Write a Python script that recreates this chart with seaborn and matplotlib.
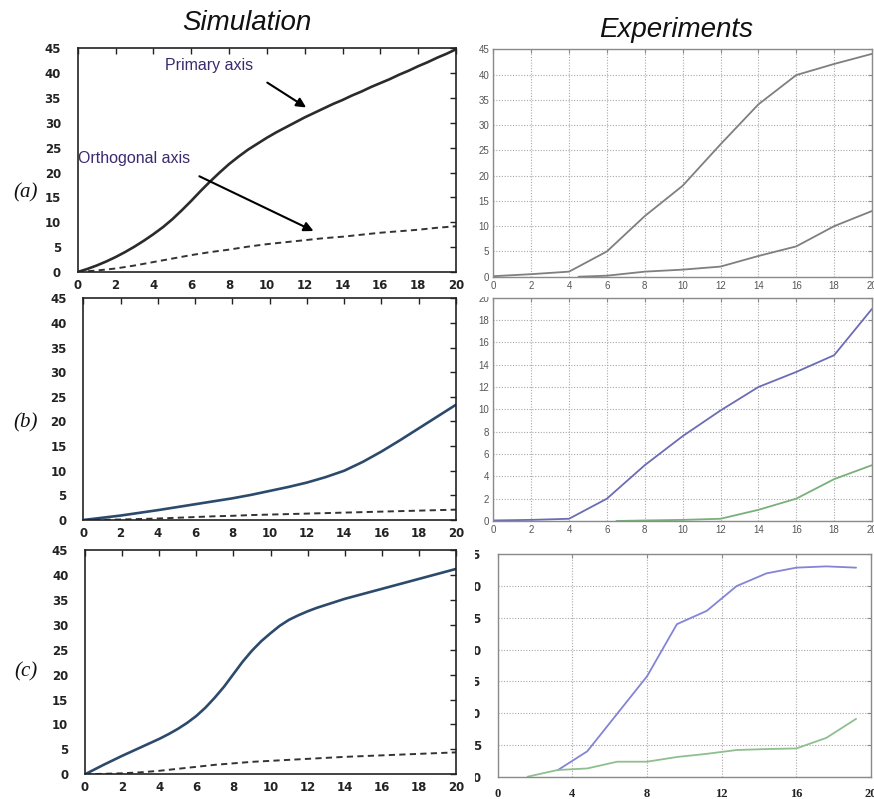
import matplotlib
matplotlib.use("Agg")
import matplotlib.pyplot as plt
from matplotlib.transforms import Bbox
import seaborn as sns

# ---------------- data ----------------
# Simulation, time axis (integer steps)
sim_x = list(range(0, 21))
# finer time axis for the primary growth curves of cases (a) and (c)
sim_x_fine = [i * 0.5 for i in range(41)]

sim_a_primary = [0, 0.6, 1.3, 2.1, 3.0, 4.0, 5.1, 6.3, 7.6, 9.0, 10.6,
                 12.4, 14.3, 16.3, 18.2, 20.0, 21.7, 23.2, 24.6, 25.8, 27.0,
                 28.1, 29.1, 30.1, 31.1, 32.0, 32.9, 33.8, 34.6, 35.5, 36.3,
                 37.2, 38.0, 38.8, 39.7, 40.5, 41.4, 42.2, 43.1, 43.9, 44.8]
sim_a_ortho = [0, 0.3, 0.7, 1.3, 2.0, 2.7, 3.4, 4.0, 4.5, 5.1, 5.6,
               6.0, 6.4, 6.8, 7.1, 7.5, 7.9, 8.2, 8.5, 8.9, 9.2]

sim_b_primary = [0, 0.45, 0.9, 1.45, 2.0, 2.6, 3.2, 3.8, 4.4, 5.1, 5.9,
                 6.7, 7.6, 8.7, 10.0, 11.8, 13.9, 16.2, 18.6, 21.0, 23.4]
sim_b_ortho = [0, 0.05, 0.1, 0.2, 0.3, 0.45, 0.6, 0.75, 0.85, 1.0, 1.1,
               1.2, 1.3, 1.4, 1.5, 1.6, 1.7, 1.8, 1.9, 2.0, 2.1]

sim_c_primary = [0, 0.95, 1.9, 2.8, 3.7, 4.55, 5.4, 6.25, 7.1, 8.05, 9.1,
                 10.3, 11.7, 13.4, 15.4, 17.6, 20.1, 22.6, 24.8, 26.7, 28.3,
                 29.8, 31.0, 31.9, 32.7, 33.4, 34.0, 34.6, 35.2, 35.7, 36.2,
                 36.7, 37.2, 37.7, 38.2, 38.7, 39.2, 39.7, 40.2, 40.7, 41.2]
sim_c_ortho = [0, 0.1, 0.2, 0.4, 0.7, 1.1, 1.5, 1.9, 2.2, 2.5, 2.7,
               2.9, 3.1, 3.3, 3.5, 3.65, 3.8, 3.95, 4.1, 4.25, 4.4]

# Experiments (a)
exp_a_x1 = [0, 2, 4, 6, 8, 10, 12, 14, 16, 18, 20]
exp_a_primary = [0.1, 0.5, 1.0, 5.0, 12.0, 18.0, 26.2, 34.1, 39.9, 42.1, 44.1]
exp_a_x2 = [4.5, 6, 8, 10, 12, 14, 16, 18, 20]
exp_a_ortho = [0, 0.2, 1.0, 1.4, 2.0, 4.1, 6.0, 10.0, 13.0]

# Experiments (b)
exp_b_x1 = [0, 2, 4, 6, 8, 10, 12, 14, 16, 18, 20]
exp_b_primary = [0.05, 0.1, 0.2, 2.0, 5.0, 7.6, 9.9, 12.0, 13.35, 14.85, 19.0]
exp_b_x2 = [6.5, 8, 10, 12, 14, 16, 18, 20]
exp_b_ortho = [0, 0.05, 0.1, 0.2, 1.0, 2.0, 3.75, 5.0]

# Experiments (c)
exp_c_x1 = [3.2, 4.8, 6.4, 8.0, 9.6, 11.2, 12.8, 14.4, 16.0, 17.6, 19.2]
exp_c_primary = [1.0, 4.0, 9.9, 15.8, 24.0, 26.1, 30.0, 32.0, 32.9, 33.1, 32.9]
exp_c_x2 = [1.6, 3.2, 4.8, 6.4, 8.0, 9.6, 11.2, 12.8, 14.4, 16.0, 17.6, 19.2]
exp_c_ortho = [0, 1.05, 1.3, 2.36, 2.36, 3.1, 3.6, 4.2, 4.35, 4.45, 6.1, 9.1]

row_labels = ["(a)", "(b)", "(c)"]
col_titles = ["Simulation", "Experiments"]

# ---------------- figure ----------------
sns.set_style("white")
plt.rcParams["font.family"] = ["Liberation Sans", "DejaVu Sans"]

W, H = 874, 799
fig = plt.figure(figsize=(W / 100, H / 100), dpi=100)


def add_axes_px(left, top, right, bottom):
    return fig.add_axes([left / W, 1 - bottom / H, (right - left) / W, (bottom - top) / H])


def pix_box(x0, y0, x1, y1):
    # image-pixel rectangle (origin top-left) -> display Bbox
    return Bbox([[x0, H - y1], [x1, H - y0]])


# ---- Simulation column ----
sim_boxes = [(77.7, 48.3, 456, 272), (83.3, 298.3, 456, 520), (85, 550, 456, 774.3)]
sim_primary = [(sim_x_fine, sim_a_primary), (sim_x, sim_b_primary), (sim_x_fine, sim_c_primary)]
sim_ortho = [sim_a_ortho, sim_b_ortho, sim_c_ortho]
sim_colors = ["#2b2b2b", "#2c4a6c", "#2c4a6c"]

sim_axes = []
for i, box in enumerate(sim_boxes):
    ax = add_axes_px(*box)
    sim_axes.append(ax)
    px, py = sim_primary[i]
    sns.lineplot(x=px, y=py, ax=ax, color=sim_colors[i], linewidth=1.9)
    sns.lineplot(x=sim_x, y=sim_ortho[i], ax=ax, color="#333333",
                 linewidth=1.4, linestyle=(0, (3.2, 2.2)))
    ax.set_xlim(0, 20)
    ax.set_ylim(0, 45)
    ax.set_xticks(range(0, 21, 2))
    ax.set_yticks(range(0, 46, 5))
    ax.tick_params(direction="in", top=True, right=True, length=4, width=1,
                   color="#222222", pad=5)
    ax.tick_params(axis="y", pad=12)
    for lab in ax.get_xticklabels() + ax.get_yticklabels():
        lab.set_fontweight("bold")
        lab.set_fontsize(8.5)
        lab.set_color("#222222")
        lab.set_family(["DejaVu Sans"])
    for s in ax.spines.values():
        s.set_color("#222222")
        s.set_linewidth(1.2)
    ax.set_xlabel("")
    ax.set_ylabel("")

# annotations on case (a)
ax = sim_axes[0]
note_color = "#3b2a6e"
ax.text(4.6, 41.6, "Primary axis", color=note_color, fontsize=11.5, va="center", ha="left")
ax.text(0.02, 22.9, "Orthogonal axis", color=note_color, fontsize=11.5, va="center", ha="left")
ax.annotate("", xy=(12.2, 32.8), xytext=(9.9, 38.4),
            arrowprops=dict(arrowstyle="-|>", color="black", lw=1.5, mutation_scale=14))
ax.annotate("", xy=(12.6, 8.0), xytext=(6.3, 19.5),
            arrowprops=dict(arrowstyle="-|>", color="black", lw=1.5, mutation_scale=14))

# ---- Experiments column ----
exp_boxes = [(493.3, 49.3, 872, 276.7), (493.3, 297.7, 872, 521), (497.7, 554.3, 871, 776.7)]
exp_series = [
    ((exp_a_x1, exp_a_primary, "#7f7f7f"), (exp_a_x2, exp_a_ortho, "#7f7f7f")),
    ((exp_b_x1, exp_b_primary, "#6c6cb4"), (exp_b_x2, exp_b_ortho, "#79b07a")),
    ((exp_c_x1, exp_c_primary, "#8484d6"), (exp_c_x2, exp_c_ortho, "#8fbf8f")),
]
exp_ylims = [(0, 45, 5), (0, 20, 2), (0, 35, 5)]
exp_xsteps = [2, 2, 4]

for i, box in enumerate(exp_boxes):
    ax = add_axes_px(*box)
    for xs, ys, c in exp_series[i]:
        sns.lineplot(x=xs, y=ys, ax=ax, color=c, linewidth=1.3)
    y0, y1, ys = exp_ylims[i]
    ax.set_xlim(0, 20)
    ax.set_ylim(y0, y1)
    ax.set_xticks(range(0, 21, exp_xsteps[i]))
    ax.set_yticks(range(y0, y1 + 1, ys))
    ax.grid(True, linestyle=(0, (1, 1.5)), color="#a8a8a8", linewidth=0.8)
    ax.set_axisbelow(True)
    ax.set_xlabel("")
    ax.set_ylabel("")
    for s in ax.spines.values():
        s.set_color("#8a8a8a")
        s.set_linewidth(1.0)
    if i < 2:
        ax.tick_params(direction="in", top=True, right=True, length=3, width=0.8,
                       color="#8a8a8a", labelsize=7, labelcolor="#555555", pad=3)
    else:
        ax.tick_params(direction="in", top=True, right=True, length=3, width=0.8,
                       color="#8a8a8a", labelsize=9, labelcolor="#222222")
        ax.tick_params(axis="x", pad=8)
        ax.tick_params(axis="y", pad=12)
        for lab in ax.get_xticklabels():
            lab.set_family(["Liberation Serif"])
            lab.set_fontweight("bold")
        for lab in ax.get_yticklabels():
            lab.set_family(["DejaVu Sans"])
            lab.set_fontweight("bold")
            lab.set_fontsize(8.5)
        # y tick labels are cut by the panel's left edge
        for t in ax.yaxis.get_major_ticks():
            t.label1.set_clip_box(pix_box(475, 540, 500, 799))
            t.label1.set_clip_on(True)
    if i == 1:
        # top tick label partly hidden under the panel above
        for t in ax.yaxis.get_major_ticks():
            t.label1.set_clip_box(pix_box(460, 297, 500, 540))
            t.label1.set_clip_on(True)

# ---- titles and row labels ----
fig.text(247 / W, 1 - 23 / H, col_titles[0], fontsize=20, fontstyle="italic",
         ha="center", va="center", color="#111111")
fig.text(676 / W, 1 - 30 / H, col_titles[1], fontsize=20, fontstyle="italic",
         ha="center", va="center", color="#111111")
for lab, yc in zip(row_labels, [193, 423, 672]):
    fig.text(26 / W, 1 - yc / H, lab, fontsize=15, fontstyle="italic",
             family=["Liberation Serif"], ha="center", va="center", color="#111111")

fig.savefig("out.png", dpi=100)
